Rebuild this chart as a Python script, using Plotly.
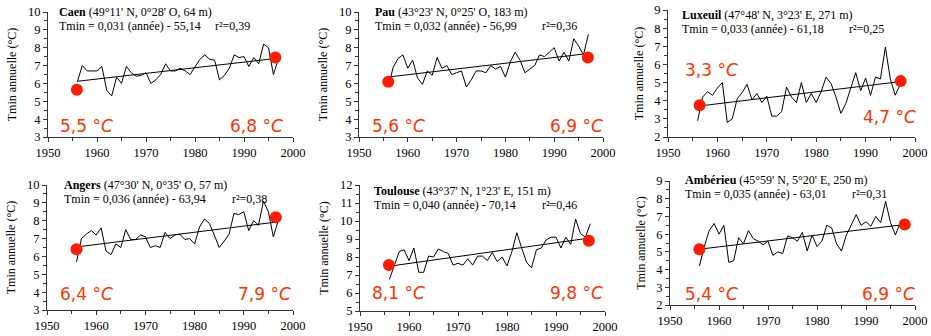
import plotly.graph_objects as go

W, H = 931, 336
years = list(range(1956, 1998))

stations = ["Caen", "Pau", "Luxeuil", "Angers", "Toulouse", "Ambérieu"]
coords = ["(49°11' N, 0°28' O, 64 m)", "(43°23' N, 0°25' O, 183 m)", "(47°48' N, 3°23' E, 271 m)",
          "(47°30' N, 0°35' O, 57 m)", "(43°37' N, 1°23' E, 151 m)", "(45°59' N, 5°20' E, 250 m)"]
equations = ["Tmin = 0,031 (année) - 55,14", "Tmin = 0,032 (année) - 56,99", "Tmin = 0,033 (année) - 61,18",
             "Tmin = 0,036 (année) - 63,94", "Tmin = 0,040 (année) - 70,14", "Tmin = 0,035 (année) - 63,01"]
r2_labels = ["r²=0,39", "r²=0,36", "r²=0,25", "r²=0,38", "r²=0,46", "r²=0,31"]
start_labels = ["5,5 °<i>C</i>", "5,6 °<i>C</i>", "3,3 °<i>C</i>", "6,4 °<i>C</i>", "8,1 °<i>C</i>", "5,4 °<i>C</i>"]
end_labels = ["6,8 °<i>C</i>", "6,9 °<i>C</i>", "4,7 °<i>C</i>", "7,9 °<i>C</i>", "9,8 °<i>C</i>", "6,9 °<i>C</i>"]

caen = [6.1, 7.0, 6.7, 6.7, 6.7, 6.95, 5.6, 5.3, 6.35, 6.0, 6.95, 6.6, 6.4, 6.45, 6.6, 6.0, 6.2, 6.5, 7.1, 6.7,
        6.7, 6.85, 6.7, 6.5, 6.95, 7.35, 7.6, 7.35, 7.3, 6.2, 6.45, 6.85, 7.6, 7.45, 7.5, 6.95, 7.45, 7.1, 8.2,
        8.0, 6.5, 7.35]
pau = [5.8, 6.9, 7.4, 7.6, 6.85, 7.3, 6.3, 5.95, 6.7, 6.45, 7.45, 6.85, 7.0, 6.5, 6.6, 6.7, 5.8, 6.2, 6.7, 6.7,
       6.6, 7.0, 6.8, 6.95, 6.35, 7.2, 7.75, 7.3, 6.6, 6.8, 7.0, 7.6, 7.5, 7.75, 8.0, 7.25, 7.75, 7.25, 8.5,
       8.1, 7.6, 8.75]
luxeuil = [2.9, 4.2, 4.5, 4.3, 4.7, 5.0, 2.8, 3.0, 4.1, 4.45, 4.9, 4.05, 4.4, 3.9, 4.25, 3.15, 3.15, 3.4, 4.75,
           4.2, 3.9, 5.0, 3.9, 4.4, 3.9, 4.5, 5.3, 4.95, 4.2, 3.3, 3.85, 4.75, 5.55, 4.55, 5.25, 4.3, 5.3, 5.2,
           6.95, 5.2, 4.3, 4.9]
angers = [5.7, 7.0, 7.25, 7.45, 7.2, 7.6, 6.3, 6.1, 6.7, 6.5, 7.5, 6.95, 6.95, 7.2, 7.1, 6.5, 6.6, 6.5, 7.35,
          7.0, 7.2, 7.25, 6.95, 7.0, 6.7, 7.65, 8.1, 7.85, 7.2, 6.5, 6.85, 7.25, 8.4, 8.35, 8.5, 7.45, 8.0,
          7.75, 9.1, 8.5, 7.1, 8.0]
toulouse = [6.75, 7.5, 8.3, 8.4, 7.8, 8.5, 7.15, 7.15, 8.05, 8.0, 8.45, 8.3, 8.2, 7.55, 7.65, 7.55, 7.9, 7.55,
            8.05, 8.05, 7.8, 8.25, 7.75, 8.0, 7.5, 8.3, 9.35, 8.5, 7.7, 7.4, 8.4, 8.5, 8.95, 9.1, 9.1, 8.5,
            9.1, 8.7, 10.1, 9.3, 9.1, 9.85]
amberieu = [4.2, 5.3, 6.2, 6.6, 6.0, 6.5, 4.4, 4.5, 5.8, 5.45, 6.2, 5.75, 5.6, 5.4, 5.6, 4.8, 5.0, 4.9, 5.9,
            5.8, 5.6, 6.1, 5.05, 5.95, 5.3, 5.6, 6.5, 6.35, 5.45, 5.05, 5.95, 6.5, 7.1, 6.5, 6.7, 6.45, 7.0,
            6.65, 7.85, 6.65, 5.95, 6.65]
series = [caen, pau, luxeuil, angers, toulouse, amberieu]

trend_x = [[1956, 1996.5], [1956, 1996.5], [1956.7, 1996], [1956, 1997], [1956.3, 1996], [1956.3, 1997.5]]
trend_y = [[6.12, 7.4], [6.36, 7.66], [3.72, 5.02], [6.53, 7.94], [7.5, 9.02], [5.16, 6.53]]
dot_x = [[1955.9, 1996.4], [1956, 1996.9], [1956.4, 1997.1], [1956, 1996.5], [1955.9, 1996.7], [1956, 1997.9]]
dot_y = [[5.65, 7.45], [6.1, 7.45], [3.75, 5.08], [6.4, 8.2], [7.55, 8.9], [5.15, 6.55]]
y_ranges = [[3, 10], [3, 10], [2, 9], [3, 10], [5, 12], [2, 9]]

# layout geometry in pixels: left, right, top, bottom of each plot area
boxes = [(48, 293, 12, 137), (359, 603, 12, 137), (668, 915, 10, 137),
         (47, 293, 185, 310), (360, 605, 185, 311), (670, 915, 181, 305)]
head_dx = [9, 14, 12, 15, 12, 13]
head_y = [(12, 26), (12, 26), (15, 29), (185, 199), (191, 205), (180, 194)]
r2_x = [213, 540, 847, 230, 540, 850]
lab_start = [(58, 126), (370, 126), (683, 70), (58, 294), (370, 293), (683, 294)]
lab_end = [(285, 126), (605, 126), (918, 117), (293, 294), (605, 293), (917, 294)]

def px(x):
    return x / W

def py(y):
    return 1 - y / H

SERIF = "Liberation Serif, Times New Roman, serif"
RED = "#ff3300"

fig = go.Figure()
layout = dict(width=W, height=H, margin=dict(l=0, r=0, t=0, b=0), paper_bgcolor="white",
              plot_bgcolor="white", showlegend=False, font=dict(family=SERIF, size=12, color="black"))
annotations = []

for i in range(6):
    k = "" if i == 0 else str(i + 1)
    xa, ya = "x" + k, "y" + k
    l, r, t, b = boxes[i]
    layout["xaxis" + k] = dict(domain=[px(l), px(r)], range=[1950, 2000], anchor=ya, dtick=10, tick0=1950,
                               ticks="outside", ticklen=4, tickcolor="#333", showline=True, linecolor="#333",
                               linewidth=1, showgrid=False, zeroline=False, automargin=False,
                               ticklabeloverflow="allow",
                               minor=dict(dtick=5, ticks="outside", ticklen=3, tickcolor="#333", showgrid=False),
                               tickfont=dict(family=SERIF, size=12.5))
    layout["yaxis" + k] = dict(domain=[py(b), py(t)], range=y_ranges[i], anchor=xa, dtick=1,
                               ticks="outside", ticklen=4, tickcolor="#333", showline=True, linecolor="#333",
                               linewidth=1, showgrid=False, zeroline=False, automargin=False,
                               minor=dict(dtick=0.5, ticks="outside", ticklen=3, tickcolor="#333", showgrid=False),
                               tickfont=dict(family=SERIF, size=12.5),
                               title=dict(text="Tmin annuelle (°C)", font=dict(family=SERIF, size=12), standoff=8))
    fig.add_trace(go.Scatter(x=years, y=series[i], mode="lines", line=dict(color="black", width=1),
                             xaxis=xa, yaxis=ya, cliponaxis=False))
    fig.add_trace(go.Scatter(x=trend_x[i], y=trend_y[i], mode="lines", line=dict(color="black", width=1),
                             xaxis=xa, yaxis=ya))
    fig.add_trace(go.Scatter(x=dot_x[i], y=dot_y[i], mode="markers", marker=dict(color="#ff1a00", size=12),
                             xaxis=xa, yaxis=ya, cliponaxis=False))
    hx = l + head_dx[i]
    annotations.append(dict(x=px(hx), y=py(head_y[i][0]), xref="paper", yref="paper", xanchor="left",
                            yanchor="middle", showarrow=False, font=dict(family=SERIF, size=12),
                            text="<b>" + stations[i] + "</b> " + coords[i]))
    annotations.append(dict(x=px(hx), y=py(head_y[i][1]), xref="paper", yref="paper", xanchor="left",
                            yanchor="middle", showarrow=False, font=dict(family=SERIF, size=12),
                            text=equations[i]))
    annotations.append(dict(x=px(r2_x[i]), y=py(head_y[i][1]), xref="paper", yref="paper", xanchor="left",
                            yanchor="middle", showarrow=False, font=dict(family=SERIF, size=12),
                            text=r2_labels[i]))
    annotations.append(dict(x=px(lab_start[i][0]), y=py(lab_start[i][1]), xref="paper", yref="paper",
                            xanchor="left", yanchor="middle", showarrow=False,
                            font=dict(family="DejaVu Sans", size=17, color=RED), text=start_labels[i]))
    annotations.append(dict(x=px(lab_end[i][0]), y=py(lab_end[i][1]), xref="paper", yref="paper",
                            xanchor="right", yanchor="middle", showarrow=False,
                            font=dict(family="DejaVu Sans", size=17, color=RED), text=end_labels[i]))

layout["annotations"] = annotations
fig.update_layout(**layout)
fig.write_html("out.html", config={"displayModeBar": False}, post_script="document.body.style.margin='0';")
